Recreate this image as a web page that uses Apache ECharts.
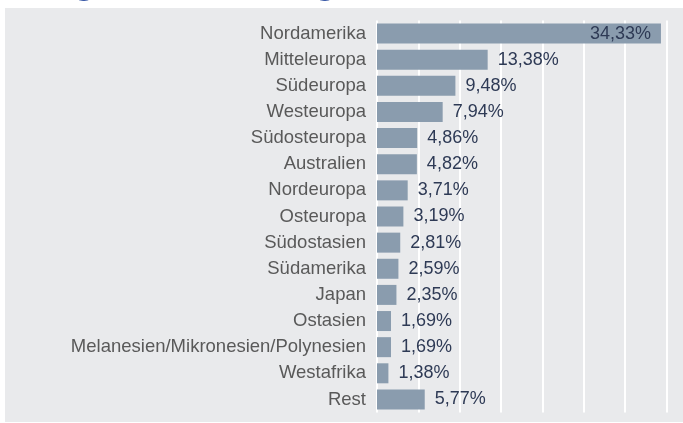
<!DOCTYPE html>
<html>
<head>
<meta charset="utf-8">
<script src="https://cdn.jsdelivr.net/npm/echarts@6/dist/echarts.min.js"></script>
<style>
    html, body { margin: 0; padding: 0; background: #fff; }
    #bar-chart { width: 683px; height: 423px; }
</style>
</head>
<body>
<div id="bar-chart"></div>
<script>
    // Regionen und Anteile in %
    var regions = ['Nordamerika', 'Mitteleuropa', 'Südeuropa', 'Westeuropa', 'Südosteuropa',
        'Australien', 'Nordeuropa', 'Osteuropa', 'Südostasien', 'Südamerika', 'Japan',
        'Ostasien', 'Melanesien/Mikronesien/Polynesien', 'Westafrika', 'Rest'];
    var shares = [34.33, 13.38, 9.48, 7.94, 4.86, 4.82, 3.71, 3.19, 2.81, 2.59, 2.35, 1.69, 1.69, 1.38, 5.77];
    var axisMax = 35;
    var axisStep = 5;

    var fmt = function (v) { return v.toFixed(2).replace('.', ',') + '%'; };

    var barData = shares.map(function (v, i) {
        var item = { value: v };
        if (i === 0) {
            item.label = { position: 'insideRight', distance: 10 };
        }
        return item;
    });

    var myChart = echarts.init(document.getElementById('bar-chart'));
    myChart.setOption({
        animation: false,
        textStyle: { fontFamily: 'Liberation Sans, Arial, sans-serif' },
        graphic: [
            {
                type: 'rect', silent: true, z: -10,
                shape: { x: 5, y: 8, width: 678, height: 414 },
                style: { fill: '#e9eaec' }
            },
            {
                // Titel ist im Original oben abgeschnitten
                type: 'text', silent: true,
                x: 40, y: 2,
                style: {
                    text: 'Regionale Verteilung',
                    font: 'bold 25px "DejaVu Serif", serif',
                    fill: '#3d5ca8',
                    verticalAlign: 'bottom'
                }
            }
        ],
        grid: { left: 377, right: 16.5, top: 20.5, bottom: 10.5 },
        xAxis: {
            type: 'value',
            min: 0,
            max: axisMax,
            interval: axisStep,
            axisLine: { show: false },
            axisTick: { show: false },
            axisLabel: { show: false },
            splitLine: { lineStyle: { color: '#ffffff', width: 2 } }
        },
        yAxis: {
            type: 'category',
            inverse: true,
            data: regions,
            axisLine: { show: false },
            axisTick: { show: false },
            axisLabel: { color: '#595959', fontSize: 18.5, margin: 11 }
        },
        series: [{
            type: 'bar',
            data: barData,
            barWidth: 20,
            itemStyle: { color: '#8a9cae' },
            label: {
                show: true,
                position: 'right',
                distance: 10,
                color: '#2e3a55',
                fontSize: 18,
                formatter: function (p) { return fmt(p.value); }
            }
        }]
    });
</script>
</body>
</html>
